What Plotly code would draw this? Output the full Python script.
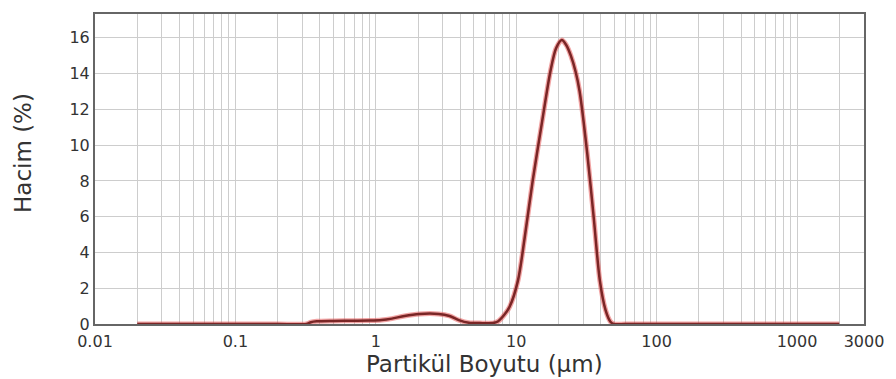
import plotly.graph_objects as go

# Particle size distribution (volume %)
size_um = [0.02, 0.05, 0.1, 0.2, 0.32, 0.345, 0.38, 0.5, 0.7, 0.9, 1.1, 1.3, 1.6, 2.05, 2.8, 3.35, 3.9, 4.6, 5.5, 6.8, 7.4, 8.2,
           8.97, 10.3, 11.5, 13.1, 15.3, 17.5, 19.2, 21.1, 22.7, 24.5, 26.5, 28.3, 32.1, 35.8, 39.4, 43.3, 46.9, 49.5,
           60, 100, 300, 1000, 2000]
volume_pct = [0, 0, 0, 0, 0, 0.1, 0.15, 0.17, 0.18, 0.19, 0.22, 0.3, 0.45, 0.56, 0.56, 0.45, 0.22, 0.07, 0.05, 0.05, 0.14, 0.5,
              0.96, 2.44, 4.85, 8.0, 11.33, 14.1, 15.4, 15.87, 15.6, 15.0, 14.1, 13.0, 9.5, 5.8, 2.44, 0.78, 0.13, 0,
              0, 0, 0, 0, 0]

x_major_vals = [0.01, 0.1, 1, 10, 100, 1000, 3000]
x_major_text = ["0.01", "0.1", "1", "10", "100", "1000", "3000"]
y_ticks = [0, 2, 4, 6, 8, 10, 12, 14, 16]
x_title = "Partikül Boyutu (µm)"
y_title = "Hacim (%)"

# gridline positions (log minor lines) + labels on majors
grid_vals = []
for dec in [0.01, 0.1, 1, 10, 100, 1000]:
    for m in range(1, 10):
        v = round(dec * m, 6)
        if v <= 3000:
            grid_vals.append(v)
grid_vals.append(3000)
grid_text = []
for v in grid_vals:
    if v in x_major_vals:
        grid_text.append(x_major_text[x_major_vals.index(v)])
    else:
        grid_text.append("")

fig = go.Figure()
fig.add_trace(go.Scatter(x=size_um, y=volume_pct, mode="lines",
                         line=dict(color="rgba(230,90,90,0.55)", width=5, shape="spline", smoothing=0.8),
                         hoverinfo="skip", showlegend=False))
fig.add_trace(go.Scatter(x=size_um, y=volume_pct, mode="lines",
                         line=dict(color="#7a2626", width=2.5, shape="spline", smoothing=0.8),
                         showlegend=False))

font_family = "DejaVu Sans, Verdana, sans-serif"
text_color = "#333333"
fig.update_layout(
    width=896, height=379,
    margin=dict(l=95, r=26, t=12, b=55),
    paper_bgcolor="white", plot_bgcolor="white",
    font=dict(family=font_family, color=text_color),
    xaxis=dict(
        type="log", range=[-2, 3.4771],
        tickmode="array", tickvals=grid_vals, ticktext=grid_text,
        showgrid=True, gridcolor="#cdcdcd", gridwidth=1,
        showline=True, linecolor="#666666", linewidth=2, mirror=True,
        ticks="", tickfont=dict(size=16, color=text_color),
        ticklabelstandoff=2,
        zeroline=False,
    ),
    yaxis=dict(
        range=[0, 17.33],
        tickmode="array", tickvals=y_ticks,
        showgrid=True, gridcolor="#cdcdcd", gridwidth=1,
        showline=True, linecolor="#666666", linewidth=2, mirror=True,
        ticks="", tickfont=dict(size=16, color=text_color),
        zeroline=False,
    ),
    annotations=[
        dict(text=x_title, xref="paper", yref="paper", x=0.507, y=0,
             yshift=-40, showarrow=False, xanchor="center", yanchor="middle",
             font=dict(size=23, color=text_color)),
        dict(text=y_title, xref="paper", yref="paper", x=0, y=0.5, xshift=-72, yshift=16,
             textangle=-90, showarrow=False, xanchor="center", yanchor="middle",
             font=dict(size=23, color=text_color)),
    ],
)

fig.write_html("out.html")
